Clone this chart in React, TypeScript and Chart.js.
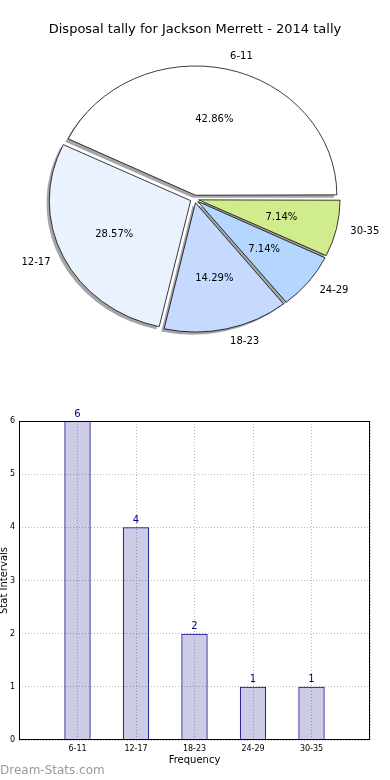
import React, { useEffect, useRef } from 'react';
import { Chart, registerables } from 'chart.js';

Chart.register(...registerables);

const chartTitle = 'Disposal tally for Jackson Merrett - 2014 tally';
const categories = ['6-11', '12-17', '18-23', '24-29', '30-35'];
const frequencies = [6, 4, 2, 1, 1];
const sliceColors = ['#ffffff', '#ebf2ff', '#c6d9ff', '#b5d6ff', '#d0ec8c'];
const yTickMin = 0;
const yTickMax = 6;
const xAxisTitle = 'Frequency';
const yAxisTitle = 'Stat Intervals';
const watermark = 'Dream-Stats.com';

const FONT = '"DejaVu Sans", sans-serif';
const SQUISH = 0.914;
const EXPLODE = 17;
const PIE_R = 141.4;
const NAVY = '#000080';

function arcFix(el: any) {
  const t = (el.options.offset || 0) / 4;
  const circ = el.circumference || 0;
  return t * (1 - Math.sin(Math.min(Math.PI, circ)));
}

function wedgeGeom(el: any) {
  const h = (el.startAngle + el.endAngle) / 2;
  const t = (el.options.offset || 0) / 4;
  const r = el.outerRadius + arcFix(el);
  return {
    cx: el.x + Math.cos(h) * t,
    cy: el.y + Math.sin(h) * t,
    r,
    h,
    start: el.startAngle,
    end: el.endAngle,
  };
}

function PieChart() {
  const ref = useRef<HTMLCanvasElement>(null);
  useEffect(() => {
    if (!ref.current) return;
    const total = frequencies.reduce((a, b) => a + b, 0);
    const pieLabels = [...categories].reverse();
    const pieData = [...frequencies].reverse();
    const pieColors = [...sliceColors].reverse();
    const pctLabels = pieData.map((v) => ((v / total) * 100).toFixed(2) + '%');

    const piePlugin = {
      id: 'pieDecor',
      afterDatasetUpdate(chart: any, args: any) {
        const meta = chart.getDatasetMeta(args.index);
        meta.data.forEach((el: any) => {
          el.outerRadius = el.outerRadius - arcFix(el);
        });
      },
      beforeDatasetsDraw(chart: any) {
        const ctx = chart.ctx;
        const meta = chart.getDatasetMeta(0);
        const c0 = meta.data[0];
        const cx = c0.x;
        const cy = c0.y;
        ctx.save();
        ctx.translate(cx, cy);
        ctx.scale(1, SQUISH);
        ctx.translate(-cx, -cy);
        const sdx = -2.8;
        const sdy = 2.6 / SQUISH;
        ctx.fillStyle = 'rgba(75,75,75,0.5)';
        meta.data.forEach((el: any) => {
          const g = wedgeGeom(el);
          ctx.beginPath();
          ctx.moveTo(g.cx + sdx, g.cy + sdy);
          ctx.arc(g.cx + sdx, g.cy + sdy, g.r, g.start, g.end);
          ctx.closePath();
          ctx.fill();
        });
      },
      afterDatasetsDraw(chart: any) {
        chart.ctx.restore();
      },
      afterDraw(chart: any) {
        const ctx = chart.ctx;
        const meta = chart.getDatasetMeta(0);
        const c0 = meta.data[0];
        const CY = c0.y;
        const sq = (x: number, y: number) => ({ x, y: CY + (y - CY) * SQUISH });
        ctx.save();
        ctx.fillStyle = '#000';
        ctx.textBaseline = 'middle';
        ctx.font = `13px ${FONT}`;
        ctx.textAlign = 'center';
        ctx.fillText(chartTitle, chart.width / 2, 30);
        ctx.font = `10px ${FONT}`;
        meta.data.forEach((el: any, i: number) => {
          const g = wedgeGeom(el);
          const R = g.r;
          const cs = Math.cos(g.h);
          const sn = Math.sin(g.h);
          const lp = sq(g.cx + cs * 1.1 * R, g.cy + sn * 1.1 * R);
          ctx.textAlign = cs > 0 ? 'left' : 'right';
          ctx.fillText(pieLabels[i], lp.x, lp.y);
          const pp = sq(g.cx + cs * 0.6 * R, g.cy + sn * 0.6 * R);
          ctx.textAlign = 'center';
          ctx.fillText(pctLabels[i], pp.x, pp.y);
        });
        ctx.restore();
      },
    };

    const chart = new Chart(ref.current, {
      type: 'pie',
      data: {
        labels: pieLabels,
        datasets: [
          {
            data: pieData,
            backgroundColor: pieColors,
            borderColor: '#000',
            borderWidth: 0.8,
            offset: pieData.map(() => EXPLODE),
          },
        ],
      },
      options: {
        animation: false,
        responsive: false,
        rotation: 90,
        radius: PIE_R,
        events: [],
        layout: { padding: { left: 0, right: 1, top: 4, bottom: 0 } },
        plugins: { legend: { display: false }, title: { display: false }, tooltip: { enabled: false } },
      } as any,
      plugins: [piePlugin],
    });
    return () => chart.destroy();
  }, []);
  return (
    <canvas
      ref={ref}
      width={390}
      height={394}
      style={{ position: 'absolute', left: 0, top: 0, width: 390, height: 394 }}
    />
  );
}

function BarChart() {
  const ref = useRef<HTMLCanvasElement>(null);
  useEffect(() => {
    if (!ref.current) return;
    const barPlugin = {
      id: 'barDecor',
      afterDatasetsDraw(chart: any) {
        const ctx = chart.ctx;
        const meta = chart.getDatasetMeta(0);
        ctx.save();
        ctx.fillStyle = NAVY;
        ctx.font = `10px ${FONT}`;
        ctx.textAlign = 'center';
        ctx.textBaseline = 'bottom';
        meta.data.forEach((bar: any, i: number) => {
          ctx.fillText(String(frequencies[i]), bar.x, bar.y - 2);
        });
        ctx.restore();
      },
      afterDraw(chart: any) {
        const ctx = chart.ctx;
        const { left, top, right, bottom } = chart.chartArea;
        ctx.save();
        ctx.strokeStyle = '#000';
        ctx.lineWidth = 1;
        const l = Math.round(left) + 0.5;
        const t = Math.round(top) + 0.5;
        const r = Math.round(right) - 0.5;
        const b = Math.round(bottom) - 0.5;
        ctx.strokeRect(l, t, r - l, b - t);
        ctx.restore();
      },
    };
    const gridCommon = { color: '#b8b8b8', lineWidth: 1, drawTicks: false, offset: false };
    const chart = new Chart(ref.current, {
      type: 'bar',
      data: {
        datasets: [
          {
            data: frequencies.map((v, i) => ({ x: i, y: v })),
            backgroundColor: 'rgba(0,0,128,0.2)',
            borderColor: NAVY,
            borderWidth: 1,
            barPercentage: 0.45,
            categoryPercentage: 1,
          },
        ],
      },
      options: {
        animation: false,
        responsive: false,
        events: [],
        layout: { padding: { left: 0, right: 20, top: 41, bottom: 14 } },
        plugins: { legend: { display: false }, title: { display: false }, tooltip: { enabled: false } },
        scales: {
          x: {
            type: 'linear',
            offset: false,
            min: -1,
            max: categories.length,
            afterFit: (s: any) => {
              s.height = 26;
            },
            ticks: {
              stepSize: 1,
              autoSkip: false,
              maxRotation: 0,
              padding: 4,
              color: '#000',
              font: { family: FONT, size: 8 },
              callback: (v: any) => categories[v] ?? '',
            },
            grid: gridCommon,
            border: { display: false, dash: [1, 2] },
            title: { display: true, text: xAxisTitle, color: '#000', font: { family: FONT, size: 10 }, padding: 0 },
          },
          y: {
            min: yTickMin,
            max: yTickMax,
            afterFit: (s: any) => {
              s.width = 21;
            },
            ticks: {
              stepSize: 1,
              padding: 4,
              color: '#000',
              font: { family: FONT, size: 8 },
            },
            grid: gridCommon,
            border: { display: false, dash: [1, 2] },
            title: { display: true, text: yAxisTitle, color: '#000', font: { family: FONT, size: 10 }, padding: 0 },
          },
        },
      } as any,
      plugins: [barPlugin],
    });
    return () => chart.destroy();
  }, []);
  return (
    <canvas
      ref={ref}
      width={392}
      height={400}
      style={{ position: 'absolute', left: -2, top: 380, width: 392, height: 400 }}
    />
  );
}

export default function App() {
  return (
    <div
      style={{
        position: 'absolute',
        left: 0,
        top: 0,
        width: 390,
        height: 780,
        overflow: 'hidden',
        background: '#fff',
      }}
    >
      <BarChart />
      <PieChart />
      <div
        style={{
          position: 'absolute',
          left: 0,
          top: 763,
          fontFamily: FONT,
          fontSize: 12,
          lineHeight: '14px',
          color: '#9a9a9a',
          whiteSpace: 'nowrap',
        }}
      >
        {watermark}
      </div>
    </div>
  );
}
